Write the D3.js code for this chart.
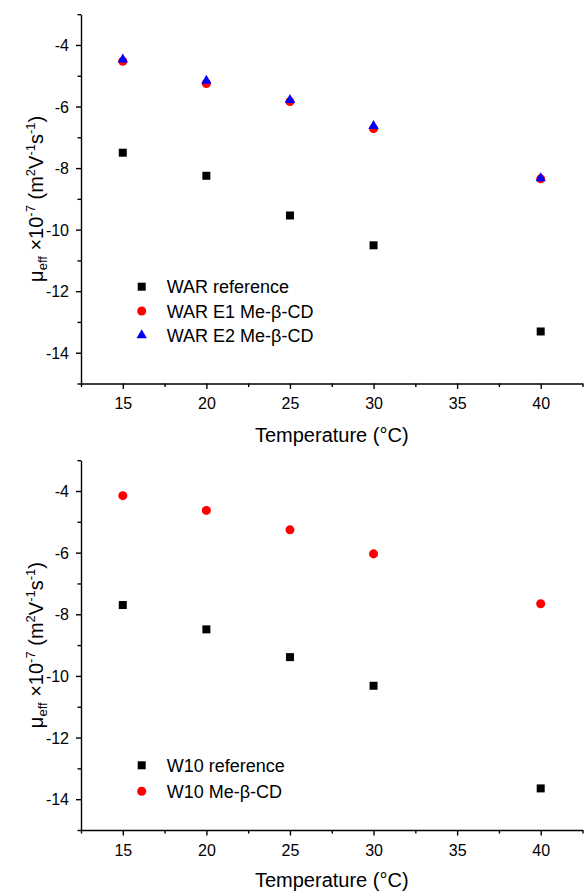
<!DOCTYPE html>
<html>
  <head>
    <meta charset="utf-8">
    <title>Effective mobility vs temperature</title>
    <style>
      body { margin: 0; background: #fff; }
      svg { display: block; }
      text { font-family: Arial, "Liberation Sans", sans-serif; fill: #000; }
    </style>
  </head>
  <body>
    <div class="chart-area"></div>

    <script src="https://d3js.org/d3.v7.min.js"></script>
    <script>
      // data
      var temps = [15, 20, 25, 30, 40];

      // top panel (WAR)
      var warReference = [-7.50, -8.25, -9.54, -10.51, -13.31];
      var warE1 = [-4.53, -5.25, -5.84, -6.72, -8.35];
      var warE2 = [-4.47, -5.16, -5.79, -6.63, -8.33];

      // bottom panel (W10)
      var w10Reference = [-7.70, -8.49, -9.39, -10.32, -13.65];
      var w10MeBCD = [-4.15, -4.63, -5.26, -6.04, -7.66];

      // axis ticks
      var xMajorTicks = [15, 20, 25, 30, 35, 40];
      var xMinorTicks = [12.5, 17.5, 22.5, 27.5, 32.5, 37.5, 42.5];
      var yMajorTicks = [-14, -12, -10, -8, -6, -4];
      var yMinorTicks = [-15, -13, -11, -9, -7, -5, -3];

      var width = 584, height = 892;

      var svg = d3.select(".chart-area")
        .append("svg")
          .attr("width", width)
          .attr("height", height);

      // marker styles
      var square = { shape: d3.symbolSquare, size: 64, color: "#000000" };
      var circle = { shape: d3.symbolCircle, size: 64, color: "#ff0000" };
      var triangle = { shape: d3.symbolTriangle, size: 46, color: "#0000ff" };

      var panels = [
        {
          top: 14.2, bottom: 383.5, titleGap: 58,
          legendTop: 286.7, legendStep: 24.3,
          series: [
            { name: "WAR reference", values: warReference, marker: square },
            { name: "WAR E1 Me-β-CD", values: warE1, marker: circle },
            { name: "WAR E2 Me-β-CD", values: warE2, marker: triangle }
          ]
        },
        {
          top: 460.2, bottom: 830, titleGap: 57,
          legendTop: 765.3, legendStep: 26,
          series: [
            { name: "W10 reference", values: w10Reference, marker: square },
            { name: "W10 Me-β-CD", values: w10MeBCD, marker: circle }
          ]
        }
      ];

      var left = 81, right = 582.5;

      panels.forEach(function(p) {
        var x = d3.scaleLinear()
          .domain([12.5, 42.5])
          .range([left, right]);
        var y = d3.scaleLinear()
          .domain([-15, -3])
          .range([p.bottom, p.top]);

        var g = svg.append("g");

        // X axis: minor ticks then major ticks with labels
        g.append("g")
          .attr("transform", "translate(0," + p.bottom + ")")
          .call(d3.axisBottom(x).tickValues(xMinorTicks).tickSize(3.5).tickFormat(""))
          .call(function(a) { a.select(".domain").remove(); });
        var xAxis = g.append("g")
          .attr("transform", "translate(0," + p.bottom + ")")
          .call(d3.axisBottom(x).tickValues(xMajorTicks).tickSize(5.5).tickSizeOuter(0).tickFormat(d3.format("d")));
        xAxis.selectAll("text")
          .attr("y", 25.5)
          .attr("dy", null)
          .style("font-size", "16px");

        // Y axis
        g.append("g")
          .attr("transform", "translate(" + left + ",0)")
          .call(d3.axisLeft(y).tickValues(yMinorTicks).tickSize(3.5).tickFormat(""))
          .call(function(a) { a.select(".domain").remove(); });
        var yAxis = g.append("g")
          .attr("transform", "translate(" + left + ",0)")
          .call(d3.axisLeft(y).tickValues(yMajorTicks).tickSize(5).tickSizeOuter(0)
            .tickFormat(function(d) { return String(d); }));
        yAxis.selectAll("text")
          .attr("x", -12)
          .attr("dy", "0.35em")
          .style("font-size", "16px");

        g.selectAll(".domain, .tick line")
          .attr("stroke", "#000")
          .attr("stroke-width", 1.4);

        // axis titles
        g.append("text")
          .attr("x", (left + right) / 2)
          .attr("y", p.bottom + p.titleGap)
          .attr("text-anchor", "middle")
          .style("font-size", "20px")
          .text("Temperature (°C)");

        var yt = g.append("text")
          .attr("transform", "translate(43," + ((p.top + p.bottom) / 2) + ") rotate(-90)")
          .attr("text-anchor", "middle")
          .style("font-size", "20px");
        yt.append("tspan").text("μ");
        yt.append("tspan").attr("dy", 4).style("font-size", "13px").text("eff");
        yt.append("tspan").attr("dy", -4).text(" ×10");
        yt.append("tspan").attr("dy", -8).style("font-size", "13px").text("-7");
        yt.append("tspan").attr("dy", 8).text(" (m");
        yt.append("tspan").attr("dy", -8).style("font-size", "13px").text("2");
        yt.append("tspan").attr("dy", 8).text("V");
        yt.append("tspan").attr("dy", -8).style("font-size", "13px").text("-1");
        yt.append("tspan").attr("dy", 8).text("s");
        yt.append("tspan").attr("dy", -8).style("font-size", "13px").text("-1");
        yt.append("tspan").attr("dy", 8).text(")");

        // points
        p.series.forEach(function(s) {
          g.append("g")
            .selectAll("path")
            .data(s.values)
            .enter().append("path")
              .attr("transform", function(d, i) { return "translate(" + x(temps[i]) + "," + y(d) + ")"; })
              .attr("d", d3.symbol().type(s.marker.shape).size(s.marker.size))
              .attr("fill", s.marker.color);
        });

        // legend
        var legend = g.append("g")
          .selectAll("g")
          .data(p.series)
          .enter().append("g")
            .attr("transform", function(d, i) { return "translate(141.7," + (p.legendTop + i * p.legendStep) + ")"; });
        legend.append("path")
          .attr("d", function(d) { return d3.symbol().type(d.marker.shape).size(d.marker.size)(); })
          .attr("fill", function(d) { return d.marker.color; });
        legend.append("text")
          .attr("x", 25)
          .attr("y", 6.5)
          .style("font-size", "18px")
          .text(function(d) { return d.name; });
      });
    </script>
  </body>
</html>
